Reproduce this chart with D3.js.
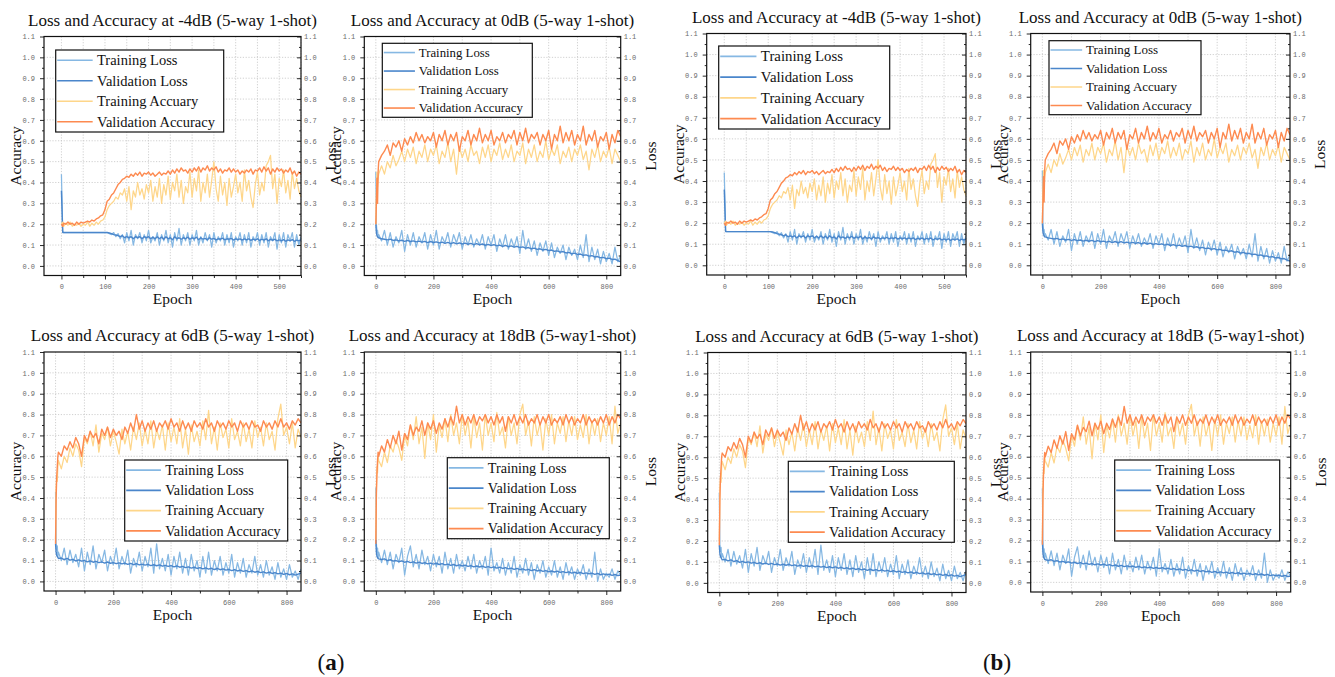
<!DOCTYPE html>
<html>
<head>
<meta charset="utf-8">
<script src="https://cdn.jsdelivr.net/npm/d3@7"></script>
<style>
  body { margin: 0; background: #fff; }
  svg { display: block; }
</style>
</head>
<body>
<script>

// epochs (x values) of the two run lengths
var epochsShort = [0, 3].concat(d3.range(5, 551, 5));
var epochsLong = [0, 2, 4, 6, 8].concat(d3.range(10, 851, 10));

// -4dB run, 550 epochs
var trainLossNeg4 = [0.44, 0.165, 0.16,
	0.16, 0.16, 0.16, 0.16, 0.16, 0.16, 0.16, 0.16, 0.16, 0.16, 0.16, 0.16, 0.16, 0.16, 0.16, 0.16, 0.16, 0.16, 0.16,
	0.16, 0.155, 0.15, 0.16, 0.14, 0.155, 0.13, 0.15, 0.11, 0.16,
	0.12, 0.17, 0.10, 0.15, 0.13, 0.16, 0.11, 0.15, 0.12, 0.17,
	0.11, 0.14, 0.12, 0.16, 0.10, 0.15, 0.12, 0.17, 0.11, 0.15,
	0.09, 0.16, 0.12, 0.18, 0.10, 0.15, 0.12, 0.16, 0.10, 0.15,
	0.12, 0.17, 0.10, 0.14, 0.11, 0.16, 0.12, 0.15, 0.09, 0.16,
	0.11, 0.14, 0.12, 0.16, 0.10, 0.15, 0.11, 0.16, 0.09, 0.14,
	0.12, 0.16, 0.10, 0.15, 0.11, 0.16, 0.09, 0.14, 0.12, 0.16,
	0.10, 0.15, 0.11, 0.16, 0.09, 0.14, 0.12, 0.16, 0.08, 0.15,
	0.11, 0.16, 0.09, 0.15, 0.12, 0.16, 0.09, 0.15, 0.10, 0.14];
var valLossNeg4 = [0.36, 0.16, 0.16,
	0.16, 0.16, 0.16, 0.16, 0.16, 0.16, 0.16, 0.16, 0.16, 0.16, 0.16, 0.16, 0.16, 0.16, 0.16, 0.16, 0.16, 0.16, 0.16,
	0.16, 0.158, 0.155, 0.15, 0.148, 0.145, 0.14, 0.145, 0.135, 0.14,
	0.135, 0.14, 0.13, 0.14, 0.135, 0.14, 0.13, 0.14, 0.135, 0.14,
	0.13, 0.138, 0.13, 0.14, 0.13, 0.138, 0.128, 0.14, 0.13, 0.135,
	0.125, 0.14, 0.13, 0.135, 0.128, 0.135, 0.13, 0.138, 0.128, 0.135,
	0.13, 0.138, 0.125, 0.135, 0.128, 0.132, 0.125, 0.135, 0.128, 0.132,
	0.125, 0.13, 0.128, 0.133, 0.125, 0.13, 0.128, 0.132, 0.124, 0.13,
	0.126, 0.13, 0.124, 0.13, 0.125, 0.13, 0.122, 0.128, 0.124, 0.13,
	0.122, 0.128, 0.124, 0.13, 0.12, 0.127, 0.123, 0.128, 0.12, 0.125,
	0.12, 0.126, 0.118, 0.125, 0.12, 0.126, 0.118, 0.124, 0.12, 0.125];
var trainAccNeg4 = [0.20, 0.21,
	0.19, 0.205, 0.195, 0.21, 0.19, 0.20, 0.195, 0.205, 0.19, 0.20,
	0.195, 0.21, 0.19, 0.205, 0.195, 0.21, 0.20, 0.215, 0.22, 0.235,
	0.27, 0.29, 0.30, 0.31, 0.33, 0.32, 0.35, 0.34, 0.37, 0.31,
	0.38, 0.27, 0.36, 0.33, 0.40, 0.34, 0.37, 0.32, 0.39, 0.35,
	0.41, 0.31, 0.38, 0.33, 0.42, 0.30, 0.39, 0.34, 0.43, 0.32,
	0.40, 0.36, 0.44, 0.33, 0.41, 0.30, 0.38, 0.35, 0.45, 0.33,
	0.42, 0.36, 0.46, 0.31, 0.40, 0.35, 0.44, 0.33, 0.41, 0.50,
	0.37, 0.31, 0.43, 0.34, 0.40, 0.29, 0.42, 0.33, 0.38, 0.44,
	0.35, 0.40, 0.31, 0.46, 0.36, 0.41, 0.33, 0.28, 0.39, 0.45,
	0.34, 0.40, 0.36, 0.48, 0.50, 0.53, 0.37, 0.44, 0.30, 0.42,
	0.38, 0.46, 0.35, 0.41, 0.32, 0.45, 0.37, 0.42, 0.36, 0.33];
var valAccNeg4 = [0.20, 0.19,
	0.205, 0.20, 0.21, 0.20, 0.205, 0.195, 0.21, 0.20, 0.21, 0.205,
	0.21, 0.215, 0.21, 0.22, 0.215, 0.225, 0.23, 0.24, 0.245, 0.27,
	0.31, 0.32, 0.34, 0.35, 0.37, 0.39, 0.40, 0.415, 0.42, 0.43,
	0.425, 0.44, 0.43, 0.445, 0.435, 0.45, 0.43, 0.445, 0.44, 0.45,
	0.435, 0.445, 0.43, 0.44, 0.45, 0.435, 0.445, 0.44, 0.455, 0.44,
	0.46, 0.445, 0.465, 0.45, 0.47, 0.455, 0.46, 0.445, 0.465, 0.45,
	0.47, 0.455, 0.475, 0.45, 0.47, 0.46, 0.48, 0.455, 0.47, 0.46,
	0.475, 0.45, 0.465, 0.445, 0.46, 0.455, 0.47, 0.45, 0.465, 0.45,
	0.46, 0.44, 0.455, 0.445, 0.46, 0.45, 0.465, 0.44, 0.46, 0.455,
	0.47, 0.45, 0.475, 0.455, 0.47, 0.44, 0.465, 0.45, 0.47, 0.455,
	0.465, 0.445, 0.46, 0.45, 0.47, 0.44, 0.455, 0.43, 0.45, 0.44];

// 0dB run, 850 epochs
var trainLoss0 = [0.45, 0.20, 0.16, 0.17, 0.14,
	0.15, 0.12, 0.17, 0.10, 0.16, 0.09, 0.14, 0.11, 0.17, 0.07,
	0.15, 0.10, 0.16, 0.09, 0.14, 0.11, 0.16, 0.08, 0.15, 0.10,
	0.17, 0.08, 0.14, 0.11, 0.16, 0.09, 0.15, 0.11, 0.16, 0.08,
	0.14, 0.10, 0.15, 0.09, 0.13, 0.10, 0.15, 0.08, 0.14, 0.10,
	0.15, 0.07, 0.13, 0.09, 0.15, 0.08, 0.13, 0.09, 0.14, 0.06,
	0.17, 0.08, 0.13, 0.07, 0.12, 0.05, 0.11, 0.07, 0.12, 0.05,
	0.11, 0.04, 0.09, 0.06, 0.10, 0.03, 0.09, 0.05, 0.08, 0.03,
	0.10, 0.04, 0.15, 0.02, 0.09, 0.03, 0.08, 0.01, 0.07, 0.02,
	0.06, 0.01, 0.09, 0.02, 0.05];
var valLoss0 = [0.20, 0.16, 0.145, 0.14, 0.135,
	0.135, 0.13, 0.128, 0.125, 0.128, 0.122, 0.125, 0.12, 0.123, 0.118,
	0.122, 0.117, 0.12, 0.115, 0.119, 0.114, 0.118, 0.112, 0.117, 0.112,
	0.115, 0.11, 0.114, 0.108, 0.113, 0.107, 0.112, 0.106, 0.11, 0.105,
	0.109, 0.104, 0.108, 0.102, 0.107, 0.101, 0.105, 0.099, 0.103, 0.098,
	0.102, 0.096, 0.1, 0.094, 0.098, 0.092, 0.096, 0.09, 0.094, 0.088,
	0.091, 0.085, 0.088, 0.082, 0.085, 0.079, 0.082, 0.076, 0.079, 0.073,
	0.076, 0.07, 0.072, 0.066, 0.069, 0.062, 0.065, 0.058, 0.061, 0.055,
	0.057, 0.051, 0.053, 0.047, 0.049, 0.043, 0.045, 0.039, 0.041, 0.035,
	0.037, 0.031, 0.032, 0.025, 0.02];
var trainAcc0 = [0.20, 0.35, 0.45, 0.38, 0.42,
	0.44, 0.48, 0.44, 0.50, 0.47, 0.53, 0.48, 0.51, 0.55, 0.50,
	0.56, 0.52, 0.57, 0.49, 0.55, 0.52, 0.58, 0.50, 0.56, 0.53,
	0.58, 0.49, 0.55, 0.52, 0.59, 0.50, 0.56, 0.44, 0.57, 0.52,
	0.56, 0.50, 0.58, 0.53, 0.55, 0.49, 0.57, 0.52, 0.58, 0.50,
	0.56, 0.53, 0.59, 0.51, 0.56, 0.52, 0.58, 0.50, 0.55, 0.53,
	0.59, 0.49, 0.56, 0.52, 0.58, 0.50, 0.55, 0.52, 0.60, 0.51,
	0.56, 0.53, 0.58, 0.49, 0.55, 0.52, 0.57, 0.50, 0.56, 0.53,
	0.58, 0.51, 0.55, 0.46, 0.56, 0.52, 0.58, 0.50, 0.55, 0.52,
	0.57, 0.49, 0.56, 0.53, 0.50];
var valAcc0 = [0.20, 0.30, 0.42, 0.30, 0.45,
	0.50, 0.53, 0.55, 0.58, 0.53, 0.59, 0.57, 0.60, 0.55, 0.61,
	0.58, 0.62, 0.59, 0.64, 0.60, 0.63, 0.59, 0.62, 0.60, 0.64,
	0.57, 0.63, 0.60, 0.65, 0.58, 0.63, 0.60, 0.64, 0.55, 0.62,
	0.60, 0.65, 0.58, 0.63, 0.60, 0.66, 0.59, 0.63, 0.60, 0.65,
	0.58, 0.62, 0.60, 0.64, 0.59, 0.63, 0.61, 0.65, 0.58, 0.64,
	0.60, 0.66, 0.59, 0.63, 0.61, 0.64, 0.58, 0.63, 0.60, 0.65,
	0.56, 0.63, 0.60, 0.67, 0.59, 0.64, 0.60, 0.65, 0.58, 0.63,
	0.60, 0.67, 0.58, 0.63, 0.60, 0.65, 0.57, 0.62, 0.60, 0.64,
	0.56, 0.63, 0.59, 0.65, 0.62];

// 6dB run, 850 epochs
var trainLoss6 = [0.43, 0.18, 0.15, 0.17, 0.12,
	0.14, 0.10, 0.16, 0.08, 0.15, 0.09, 0.13, 0.07, 0.16, 0.05,
	0.14, 0.08, 0.17, 0.06, 0.13, 0.09, 0.15, 0.05, 0.12, 0.08,
	0.16, 0.06, 0.12, 0.08, 0.15, 0.04, 0.11, 0.07, 0.14, 0.05,
	0.12, 0.07, 0.16, 0.04, 0.18, 0.06, 0.11, 0.05, 0.13, 0.03,
	0.12, 0.06, 0.14, 0.04, 0.11, 0.03, 0.13, 0.05, 0.10, 0.02,
	0.12, 0.04, 0.14, 0.03, 0.10, 0.05, 0.12, 0.03, 0.09, 0.04,
	0.13, 0.02, 0.09, 0.04, 0.11, 0.02, 0.08, 0.04, 0.12, 0.03,
	0.08, 0.02, 0.10, 0.03, 0.07, 0.01, 0.09, 0.02, 0.06, 0.01,
	0.08, 0.02, 0.05, 0.01, 0.06];
var valLoss6 = [0.18, 0.14, 0.125, 0.12, 0.115,
	0.11, 0.112, 0.105, 0.11, 0.102, 0.106, 0.098, 0.103, 0.097, 0.1,
	0.094, 0.098, 0.092, 0.096, 0.09, 0.094, 0.088, 0.093, 0.087, 0.09,
	0.085, 0.089, 0.084, 0.088, 0.082, 0.086, 0.08, 0.085, 0.079, 0.083,
	0.078, 0.082, 0.076, 0.08, 0.075, 0.079, 0.073, 0.077, 0.072, 0.076,
	0.07, 0.074, 0.068, 0.072, 0.066, 0.07, 0.064, 0.068, 0.062, 0.066,
	0.06, 0.065, 0.059, 0.063, 0.057, 0.062, 0.056, 0.06, 0.054, 0.058,
	0.052, 0.056, 0.05, 0.054, 0.048, 0.052, 0.046, 0.05, 0.044, 0.048,
	0.042, 0.046, 0.04, 0.044, 0.038, 0.042, 0.036, 0.04, 0.034, 0.038,
	0.032, 0.036, 0.03, 0.035, 0.04];
var trainAcc6 = [0.20, 0.45, 0.50, 0.48, 0.55,
	0.58, 0.54, 0.60, 0.57, 0.64, 0.60, 0.66, 0.63, 0.55, 0.69,
	0.66, 0.72, 0.65, 0.75, 0.62, 0.71, 0.68, 0.74, 0.65, 0.72,
	0.67, 0.61, 0.73, 0.66, 0.72, 0.63, 0.74, 0.68, 0.76, 0.65,
	0.73, 0.66, 0.77, 0.64, 0.73, 0.68, 0.75, 0.63, 0.76, 0.67,
	0.74, 0.66, 0.78, 0.64, 0.73, 0.61, 0.75, 0.67, 0.72, 0.65,
	0.77, 0.68, 0.82, 0.66, 0.74, 0.63, 0.76, 0.69, 0.73, 0.64,
	0.78, 0.68, 0.72, 0.65, 0.76, 0.67, 0.73, 0.64, 0.77, 0.69,
	0.74, 0.65, 0.76, 0.68, 0.72, 0.63, 0.78, 0.85, 0.70, 0.74,
	0.66, 0.76, 0.64, 0.73, 0.69];
var valAcc6 = [0.18, 0.40, 0.50, 0.55, 0.60,
	0.62, 0.60, 0.65, 0.63, 0.67, 0.64, 0.69, 0.66, 0.60, 0.70,
	0.67, 0.72, 0.69, 0.71, 0.66, 0.73, 0.70, 0.74, 0.69, 0.73,
	0.70, 0.72, 0.68, 0.74, 0.71, 0.76, 0.72, 0.80, 0.73, 0.77,
	0.72, 0.76, 0.73, 0.77, 0.72, 0.76, 0.74, 0.77, 0.73, 0.78,
	0.74, 0.76, 0.72, 0.77, 0.73, 0.76, 0.72, 0.77, 0.74, 0.76,
	0.73, 0.78, 0.74, 0.76, 0.72, 0.77, 0.74, 0.76, 0.73, 0.77,
	0.74, 0.76, 0.72, 0.77, 0.74, 0.76, 0.73, 0.77, 0.74, 0.75,
	0.72, 0.77, 0.74, 0.76, 0.73, 0.77, 0.74, 0.78, 0.74, 0.76,
	0.73, 0.77, 0.75, 0.78, 0.76];

// 18dB run, 850 epochs
var trainLoss18 = [0.45, 0.18, 0.14, 0.16, 0.11,
	0.14, 0.09, 0.15, 0.08, 0.14, 0.06, 0.13, 0.09, 0.16, 0.03,
	0.12, 0.17, 0.07, 0.13, 0.06, 0.15, 0.08, 0.12, 0.05, 0.13,
	0.07, 0.12, 0.04, 0.14, 0.06, 0.11, 0.04, 0.13, 0.06, 0.10,
	0.05, 0.12, 0.06, 0.13, 0.04, 0.10, 0.06, 0.12, 0.03, 0.16,
	0.05, 0.09, 0.04, 0.11, 0.03, 0.09, 0.04, 0.12, 0.02, 0.08,
	0.04, 0.11, 0.03, 0.09, 0.01, 0.08, 0.04, 0.10, 0.02, 0.07,
	0.03, 0.10, 0.02, 0.07, 0.01, 0.09, 0.03, 0.07, 0.01, 0.06,
	0.03, 0.08, 0.01, 0.06, 0.02, 0.14, 0.00, 0.06, 0.01, 0.04,
	0.02, 0.06, 0.01, 0.05, 0.03];
var valLoss18 = [0.20, 0.14, 0.12, 0.115, 0.11,
	0.108, 0.105, 0.108, 0.1, 0.104, 0.097, 0.1, 0.095, 0.098, 0.092,
	0.096, 0.09, 0.094, 0.088, 0.092, 0.086, 0.09, 0.084, 0.088, 0.083,
	0.087, 0.081, 0.085, 0.079, 0.083, 0.077, 0.081, 0.075, 0.079, 0.074,
	0.078, 0.072, 0.076, 0.07, 0.074, 0.069, 0.073, 0.067, 0.071, 0.066,
	0.07, 0.064, 0.068, 0.062, 0.066, 0.06, 0.064, 0.058, 0.062, 0.056,
	0.06, 0.054, 0.058, 0.052, 0.056, 0.05, 0.054, 0.048, 0.052, 0.046,
	0.05, 0.045, 0.049, 0.043, 0.047, 0.042, 0.046, 0.04, 0.044, 0.039,
	0.043, 0.037, 0.041, 0.036, 0.04, 0.034, 0.038, 0.032, 0.036, 0.031,
	0.035, 0.029, 0.033, 0.028, 0.03];
var trainAcc18 = [0.20, 0.45, 0.55, 0.52, 0.60,
	0.58, 0.55, 0.62, 0.57, 0.65, 0.62, 0.68, 0.64, 0.58, 0.70,
	0.65, 0.75, 0.68, 0.79, 0.66, 0.74, 0.59, 0.76, 0.68, 0.80,
	0.62, 0.75, 0.69, 0.78, 0.67, 0.80, 0.70, 0.76, 0.66, 0.80,
	0.70, 0.77, 0.64, 0.79, 0.69, 0.76, 0.63, 0.80, 0.70, 0.76,
	0.67, 0.81, 0.70, 0.74, 0.64, 0.79, 0.70, 0.76, 0.66, 0.80,
	0.85, 0.70, 0.77, 0.65, 0.79, 0.70, 0.76, 0.63, 0.78, 0.70,
	0.80, 0.66, 0.76, 0.71, 0.79, 0.67, 0.77, 0.70, 0.79, 0.68,
	0.75, 0.69, 0.80, 0.66, 0.77, 0.70, 0.78, 0.67, 0.76, 0.70,
	0.79, 0.66, 0.84, 0.71, 0.76];
var valAcc18 = [0.18, 0.42, 0.52, 0.58, 0.62,
	0.60, 0.65, 0.62, 0.68, 0.64, 0.70, 0.66, 0.72, 0.63, 0.71,
	0.68, 0.75, 0.70, 0.74, 0.72, 0.77, 0.70, 0.76, 0.73, 0.77,
	0.71, 0.76, 0.73, 0.78, 0.74, 0.79, 0.75, 0.84, 0.76, 0.80,
	0.75, 0.79, 0.76, 0.80, 0.75, 0.79, 0.77, 0.80, 0.76, 0.79,
	0.75, 0.80, 0.76, 0.79, 0.72, 0.79, 0.76, 0.80, 0.75, 0.79,
	0.76, 0.80, 0.75, 0.78, 0.76, 0.80, 0.75, 0.79, 0.76, 0.80,
	0.75, 0.78, 0.76, 0.79, 0.75, 0.80, 0.76, 0.79, 0.75, 0.78,
	0.76, 0.80, 0.75, 0.79, 0.76, 0.78, 0.75, 0.79, 0.76, 0.80,
	0.75, 0.79, 0.76, 0.80, 0.78];

// legend names (in draw order) and colours
var seriesNames = ["Training Loss", "Validation Loss", "Training Accuary", "Validation Accuracy"];
var seriesColors = ["#86b8e3", "#4a86cb", "#fed68a", "#fd8a50"];

var yTicks = d3.range(0, 11.5, 1).map(function(d) { return d / 10; });
var yMinor = d3.range(0.5, 11, 1).map(function(d) { return d / 10; });

var runNeg4 = {title: "Loss and Accuracy at -4dB (5-way 1-shot)", epochs: epochsShort, xMax: 550, labelStep: 100, gridStep: 50,
	series: [trainLossNeg4, valLossNeg4, trainAccNeg4, valAccNeg4]};
var run0 = {title: "Loss and Accuracy at 0dB (5-way 1-shot)", epochs: epochsLong, xMax: 850, labelStep: 200, gridStep: 100,
	series: [trainLoss0, valLoss0, trainAcc0, valAcc0]};
var run6 = {title: "Loss and Accuracy at 6dB (5-way 1-shot)", epochs: epochsLong, xMax: 850, labelStep: 200, gridStep: 100,
	series: [trainLoss6, valLoss6, trainAcc6, valAcc6]};
var run18 = {title: "Loss and Accuracy at 18dB (5-way1-shot)", epochs: epochsLong, xMax: 850, labelStep: 200, gridStep: 100,
	series: [trainLoss18, valLoss18, trainAcc18, valAcc18]};

// panel frames and legend boxes, (a) on the left and (b) on the right
var panels = [
	{run: runNeg4, left: 44, right: 301, top: 36.5, bottom: 275.5, lg: {x: 55.7, y: 50, w: 168, h: 82, size: 14.5}},
	{run: run0, left: 364.3, right: 620.7, top: 36.5, bottom: 275.5, lg: {x: 382.3, y: 43.3, w: 150, h: 74, size: 12.8}},
	{run: run6, left: 44, right: 301, top: 352, bottom: 591, lg: {x: 124.7, y: 460, w: 163, h: 81, size: 14.2}},
	{run: run18, left: 364.3, right: 620.7, top: 352, bottom: 591, lg: {x: 447.3, y: 457.7, w: 162, h: 81, size: 14.2}},
	{run: runNeg4, left: 706.7, right: 966, top: 33.5, bottom: 275, lg: {x: 718.7, y: 46, w: 171, h: 83, size: 14.8}},
	{run: run0, left: 1030.7, right: 1290, top: 33.5, bottom: 275, lg: {x: 1049, y: 40.7, w: 152, h: 74, size: 13}},
	{run: run6, left: 707.7, right: 966, top: 352.5, bottom: 592.5, lg: {x: 788.3, y: 461.3, w: 166, h: 81, size: 14.3}},
	{run: run18, left: 1030.7, right: 1290.7, top: 352, bottom: 592, lg: {x: 1114.7, y: 460, w: 165, h: 81, size: 14.3}}
];

var serif = "'Liberation Serif', 'Times New Roman', serif";
var mono = "'Liberation Mono', 'DejaVu Sans Mono', monospace";

var svg = d3.select("body").append("svg")
	.attr("width", 1335)
	.attr("height", 677);

svg.append("rect").attr("width", 1335).attr("height", 677).attr("fill", "#fff");

panels.forEach(function(p, k) {
	var run = p.run;

	var x = d3.scaleLinear().domain([-40, run.xMax]).range([p.left, p.right]);
	var y = d3.scaleLinear().domain([-0.046, 1.1]).range([p.bottom, p.top]);

	var g = svg.append("g");

	g.append("clipPath").attr("id", "clip" + k)
		.append("rect")
			.attr("x", p.left).attr("y", p.top)
			.attr("width", p.right - p.left).attr("height", p.bottom - p.top);

	// dotted grid
	var grid = g.append("g")
		.attr("stroke", "#c4c4c4")
		.attr("stroke-width", 0.8)
		.attr("stroke-dasharray", "1.2,1.6");

	grid.selectAll(".gx")
		.data(d3.range(0, run.xMax + 1, run.gridStep))
		.enter().append("line")
			.attr("x1", function(d) { return x(d); })
			.attr("x2", function(d) { return x(d); })
			.attr("y1", p.top)
			.attr("y2", p.bottom);

	grid.selectAll(".gy")
		.data(yTicks.slice(0, 11))
		.enter().append("line")
			.attr("x1", p.left)
			.attr("x2", p.right)
			.attr("y1", function(d) { return y(d); })
			.attr("y2", function(d) { return y(d); });

	// curves
	var line = d3.line()
		.x(function(d, i) { return x(run.epochs[i]); })
		.y(function(d) { return y(d); });

	g.append("g")
		.attr("clip-path", "url(#clip" + k + ")")
		.selectAll("path")
		.data(run.series)
		.enter().append("path")
			.attr("d", line)
			.attr("fill", "none")
			.attr("stroke", function(d, i) { return seriesColors[i]; })
			.attr("stroke-width", function(d, i) { return i % 2 ? 1.4 : 1.25; })
			.attr("stroke-linejoin", "round");

	// axes
	var fmt = d3.format(".1f");

	g.append("g")
		.attr("transform", "translate(" + p.left + ",0)")
		.call(d3.axisLeft(y).tickValues(yTicks).tickFormat(fmt).tickSize(4).tickPadding(5));
	g.append("g")
		.attr("transform", "translate(" + p.left + ",0)")
		.call(d3.axisLeft(y).tickValues(yMinor).tickFormat("").tickSize(2));

	g.append("g")
		.attr("transform", "translate(" + p.right + ",0)")
		.call(d3.axisRight(y).tickValues(yTicks).tickFormat(fmt).tickSize(-4).tickPadding(3));
	g.append("g")
		.attr("transform", "translate(" + p.right + ",0)")
		.call(d3.axisRight(y).tickValues(yMinor).tickFormat("").tickSize(-2));

	g.append("g")
		.attr("transform", "translate(0," + p.bottom + ")")
		.call(d3.axisBottom(x).tickValues(d3.range(0, run.xMax + 1, run.labelStep)).tickFormat(d3.format("d")).tickSize(4).tickPadding(5));
	g.append("g")
		.attr("transform", "translate(0," + p.bottom + ")")
		.call(d3.axisBottom(x).tickValues(d3.range(run.gridStep, run.xMax + 1, run.labelStep)).tickFormat("").tickSize(2.5));

	g.selectAll(".domain").remove();
	g.selectAll(".tick line").attr("stroke", "#111").attr("stroke-width", 0.9);
	g.selectAll(".tick text")
		.attr("font-family", mono)
		.attr("font-size", 7)
		.attr("fill", "#6a6a6a");

	// frame
	g.append("rect")
		.attr("x", p.left).attr("y", p.top)
		.attr("width", p.right - p.left).attr("height", p.bottom - p.top)
		.attr("fill", "none")
		.attr("stroke", "#111")
		.attr("stroke-width", 1.2);

	// title and axis labels
	g.append("text")
		.attr("x", (p.left + p.right) / 2)
		.attr("y", p.top - 11)
		.attr("text-anchor", "middle")
		.attr("font-family", serif)
		.attr("font-size", 17)
		.attr("fill", "#111")
		.text(run.title);

	g.append("text")
		.attr("x", (p.left + p.right) / 2)
		.attr("y", p.bottom + 28.5)
		.attr("text-anchor", "middle")
		.attr("font-family", serif)
		.attr("font-size", 15.5)
		.attr("fill", "#111")
		.text("Epoch");

	g.append("text")
		.attr("transform", "translate(" + (p.left - 23) + "," + ((p.top + p.bottom) / 2) + ") rotate(-90)")
		.attr("text-anchor", "middle")
		.attr("font-family", serif)
		.attr("font-size", 15.5)
		.attr("fill", "#111")
		.text("Accuracy");

	g.append("text")
		.attr("transform", "translate(" + (p.right + 35) + "," + ((p.top + p.bottom) / 2) + ") rotate(-90)")
		.attr("text-anchor", "middle")
		.attr("font-family", serif)
		.attr("font-size", 15.5)
		.attr("fill", "#111")
		.text("Loss");

	// legend
	var lg = p.lg;
	var rowH = lg.h / 4;
	var leg = g.append("g");

	leg.append("rect")
		.attr("x", lg.x).attr("y", lg.y)
		.attr("width", lg.w).attr("height", lg.h)
		.attr("fill", "#fff")
		.attr("stroke", "#111")
		.attr("stroke-width", 1.2);

	var rows = leg.selectAll(".row")
		.data(seriesNames)
		.enter().append("g")
			.attr("transform", function(d, i) {
				return "translate(" + lg.x + "," + (lg.y + rowH * (i + 0.5)) + ")";
			});

	rows.append("line")
		.attr("x1", 1.5)
		.attr("x2", lg.size * 2.55)
		.attr("stroke", function(d, i) { return seriesColors[i]; })
		.attr("stroke-width", 1.6);

	rows.append("text")
		.attr("x", lg.size * 2.85)
		.attr("y", lg.size * 0.33)
		.attr("font-family", serif)
		.attr("font-size", lg.size)
		.attr("fill", "#111")
		.text(function(d) { return d; });
});

// sub-figure captions
[{t: "a", x: 331}, {t: "b", x: 997}].forEach(function(c) {
	var cap = svg.append("text")
		.attr("x", c.x)
		.attr("y", 670)
		.attr("text-anchor", "middle")
		.attr("font-family", serif)
		.attr("font-size", 23)
		.attr("fill", "#111");
	cap.append("tspan").text("(");
	cap.append("tspan").attr("font-weight", "bold").text(c.t);
	cap.append("tspan").text(")");
});

</script>
</body>
</html>
